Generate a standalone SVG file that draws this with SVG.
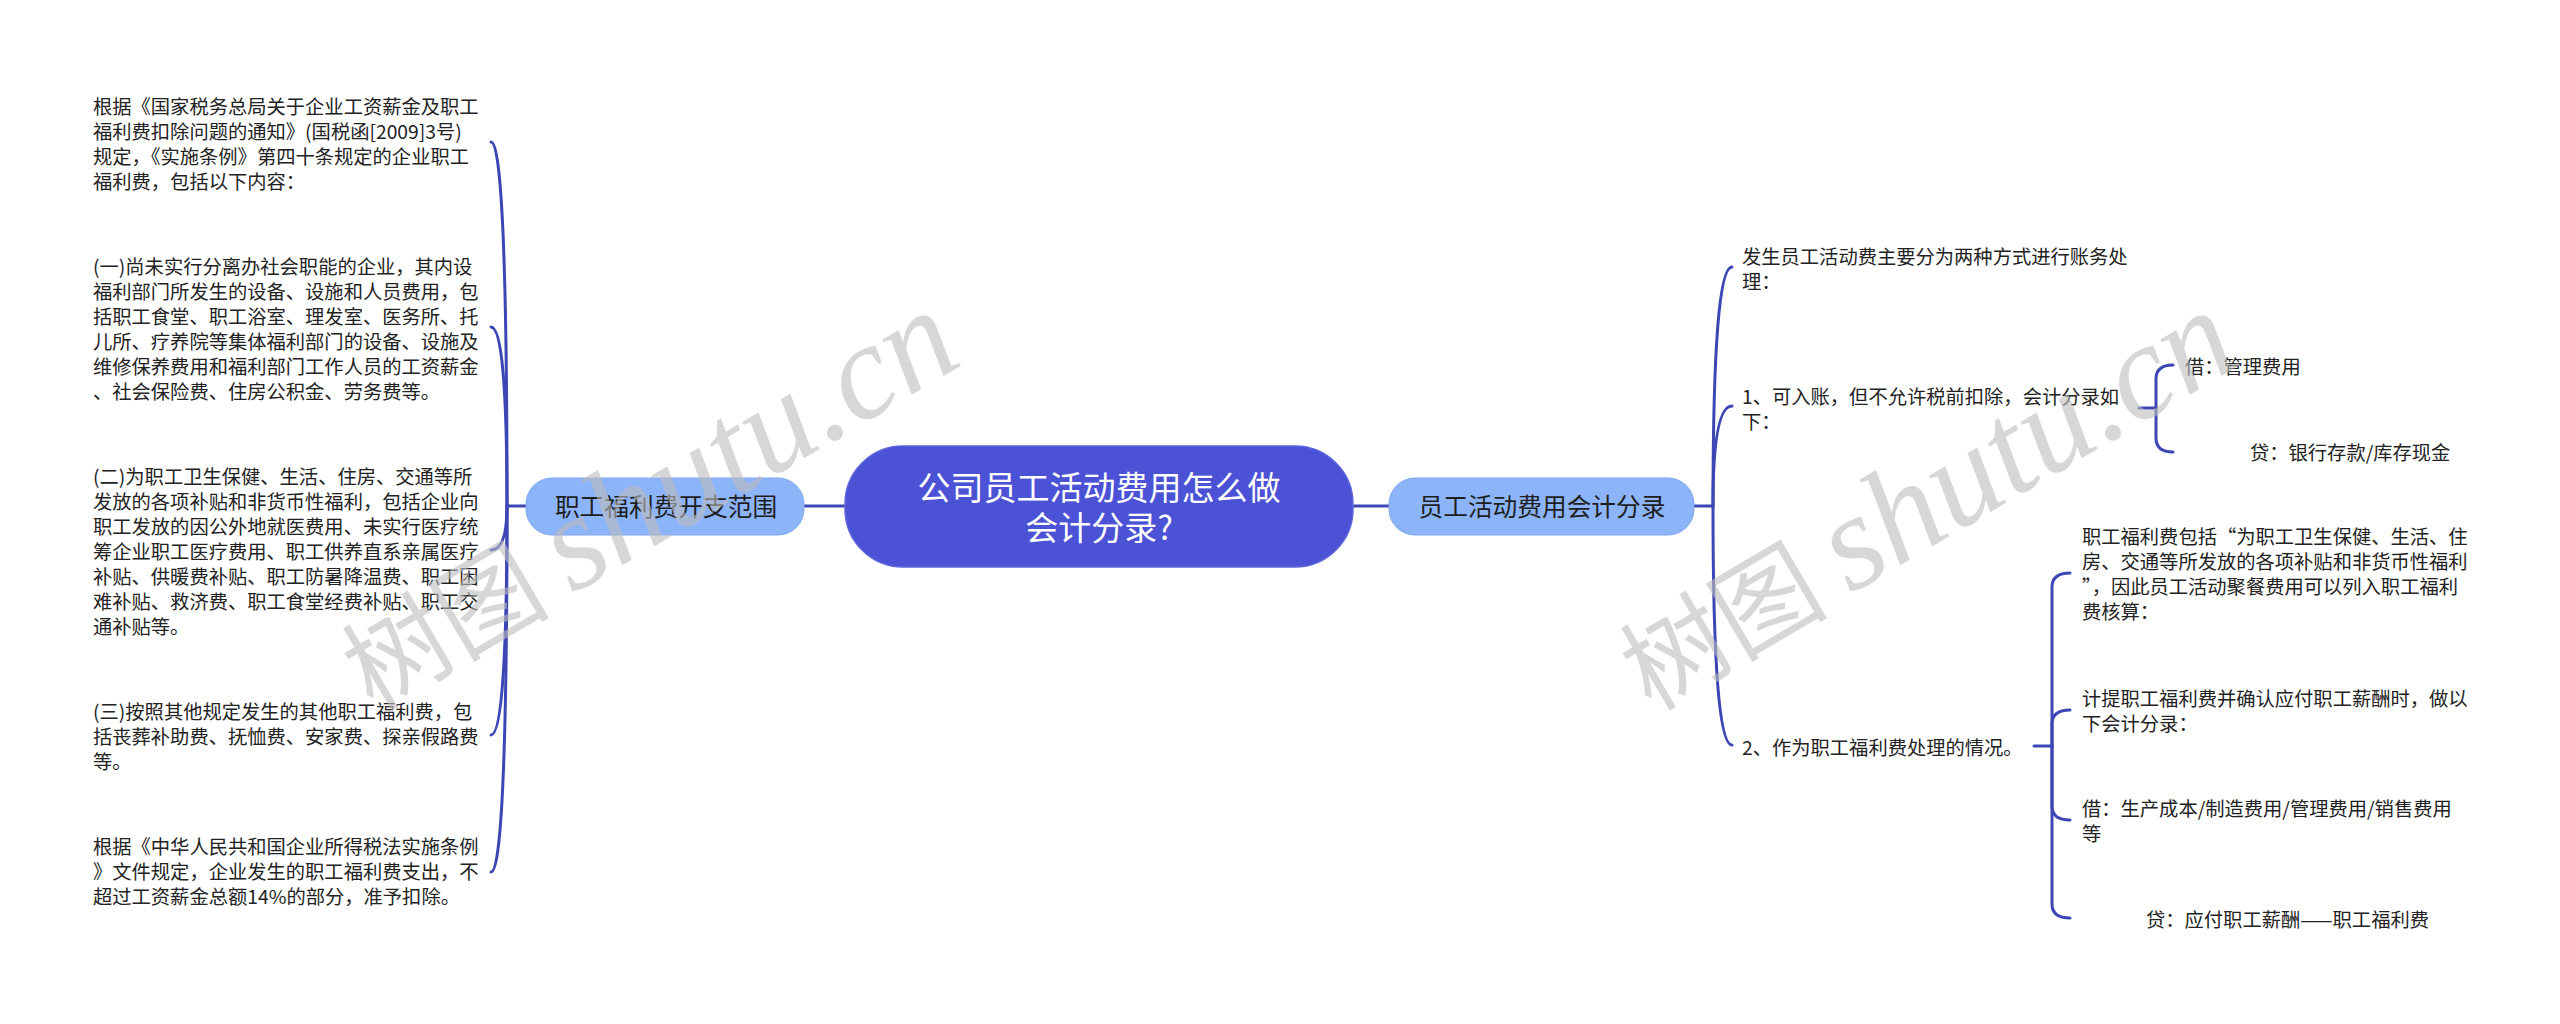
<svg xmlns="http://www.w3.org/2000/svg" width="2560" height="1024" viewBox="0 0 2560 1024">
<style>
.bg{fill:#ffffff}
.t{font-family:"Noto Sans CJK SC","Noto Sans",sans-serif;font-size:19.3px;fill:#222222;font-feature-settings:"chws" 0,"halt" 0}
.subn{fill:#8cb4f8;stroke:#7ea8f0;stroke-width:1}
.subt{font-family:"Noto Sans CJK SC","Noto Sans",sans-serif;font-size:24.7px;fill:#1e1e1e;text-anchor:middle}
.ctr{fill:#4b52d6;stroke:#5c63dc;stroke-width:1.5}
.ctrt{font-family:"Noto Sans CJK SC","Noto Sans",sans-serif;font-size:33px;fill:#ffffff;text-anchor:middle}
.c{fill:none;stroke:#3c46b5;stroke-width:3;stroke-linecap:round}
.wm{fill:#bdbdbd;opacity:0.6}
</style>
<rect class="bg" x="0" y="0" width="2560" height="1024"/>

<g id="connectors">
  <path class="c" d="M804 506 L844 506"/>
  <path class="c" d="M1354 506 L1389 506"/>
  <path class="c" d="M526 506 L507 506"/>
  <path class="c" d="M507 506 Q507 142 491 142"/>
  <path class="c" d="M507 506 Q507 327 491 327"/>
  <path class="c" d="M507 506 Q507 550 491 550"/>
  <path class="c" d="M507 506 Q507 735 491 735"/>
  <path class="c" d="M507 506 Q507 872 491 872"/>
  <path class="c" d="M1694 506 L1713 506"/>
  <path class="c" d="M1713 506 Q1713 267 1732 267"/>
  <path class="c" d="M1713 506 Q1713 406 1732 406"/>
  <path class="c" d="M1713 506 Q1713 745 1732 745"/>
  <path class="c" d="M2139 408 L2156 408"/>
  <path class="c" d="M2156 408 L2156 379 Q2156 365 2173 365"/>
  <path class="c" d="M2156 408 L2156 438 Q2156 452 2173 452"/>
  <path class="c" d="M2034 746 L2052 746"/>
  <path class="c" d="M2052 746 L2052 587 Q2052 573 2070 573"/>
  <path class="c" d="M2052 746 L2052 724 Q2052 710 2070 710"/>
  <path class="c" d="M2052 746 L2052 806 Q2052 820 2070 820"/>
  <path class="c" d="M2052 746 L2052 904 Q2052 918 2070 918"/>
</g>

<g id="center">
  <rect class="ctr" x="845" y="446" width="508" height="121" rx="58" ry="58"/>
  <text class="ctrt" x="1099" y="500">公司员工活动费用怎么做</text>
  <text class="ctrt" x="1099" y="540">会计分录?</text>
</g>

<g id="left-main">
  <rect class="subn" x="526" y="478" width="278" height="57" rx="26" ry="26"/>
  <text class="subt" x="666" y="516">职工福利费开支范围</text>
</g>

<g id="right-main">
  <rect class="subn" x="1389" y="478" width="305" height="57" rx="26" ry="26"/>
  <text class="subt" x="1542" y="516">员工活动费用会计分录</text>
</g>

<g id="left-leaf-1">
  <text class="t" x="93" y="114">根据《国家税务总局关于企业工资薪金及职工</text>
  <text class="t" x="93" y="139">福利费扣除问题的通知》(国税函[2009]3号)</text>
  <text class="t" x="93" y="164">规定，《实施条例》第四十条规定的企业职工</text>
  <text class="t" x="93" y="189">福利费，包括以下内容：</text>
</g>
<g id="left-leaf-2">
  <text class="t" x="93" y="274">(一)尚未实行分离办社会职能的企业，其内设</text>
  <text class="t" x="93" y="299">福利部门所发生的设备、设施和人员费用，包</text>
  <text class="t" x="93" y="324">括职工食堂、职工浴室、理发室、医务所、托</text>
  <text class="t" x="93" y="349">儿所、疗养院等集体福利部门的设备、设施及</text>
  <text class="t" x="93" y="374">维修保养费用和福利部门工作人员的工资薪金</text>
  <text class="t" x="93" y="399">、社会保险费、住房公积金、劳务费等。</text>
</g>
<g id="left-leaf-3">
  <text class="t" x="93" y="484">(二)为职工卫生保健、生活、住房、交通等所</text>
  <text class="t" x="93" y="509">发放的各项补贴和非货币性福利，包括企业向</text>
  <text class="t" x="93" y="534">职工发放的因公外地就医费用、未实行医疗统</text>
  <text class="t" x="93" y="559">筹企业职工医疗费用、职工供养直系亲属医疗</text>
  <text class="t" x="93" y="584">补贴、供暖费补贴、职工防暑降温费、职工困</text>
  <text class="t" x="93" y="609">难补贴、救济费、职工食堂经费补贴、职工交</text>
  <text class="t" x="93" y="634">通补贴等。</text>
</g>
<g id="left-leaf-4">
  <text class="t" x="93" y="719">(三)按照其他规定发生的其他职工福利费，包</text>
  <text class="t" x="93" y="744">括丧葬补助费、抚恤费、安家费、探亲假路费</text>
  <text class="t" x="93" y="769">等。</text>
</g>
<g id="left-leaf-5">
  <text class="t" x="93" y="854">根据《中华人民共和国企业所得税法实施条例</text>
  <text class="t" x="93" y="879">》文件规定，企业发生的职工福利费支出，不</text>
  <text class="t" x="93" y="904">超过工资薪金总额14%的部分，准予扣除。</text>
</g>

<g id="right-leaf-1">
  <text class="t" x="1742" y="264">发生员工活动费主要分为两种方式进行账务处</text>
  <text class="t" x="1742" y="289">理：</text>
</g>
<g id="right-leaf-2">
  <text class="t" x="1742" y="404">1、可入账，但不允许税前扣除，会计分录如</text>
  <text class="t" x="1742" y="429">下：</text>
</g>
<g id="right-leaf-2-1">
  <text class="t" x="2185" y="374">借：管理费用</text>
</g>
<g id="right-leaf-2-2">
  <text class="t" x="2250" y="460">贷：银行存款/库存现金</text>
</g>
<g id="right-leaf-3">
  <text class="t" x="1742" y="755">2、作为职工福利费处理的情况。</text>
</g>
<g id="right-leaf-3-1">
  <text class="t" x="2082" y="544">职工福利费包括“为职工卫生保健、生活、住</text>
  <text class="t" x="2082" y="569">房、交通等所发放的各项补贴和非货币性福利</text>
  <text class="t" x="2082" y="594">”，因此员工活动聚餐费用可以列入职工福利</text>
  <text class="t" x="2082" y="619">费核算：</text>
</g>
<g id="right-leaf-3-2">
  <text class="t" x="2082" y="706">计提职工福利费并确认应付职工薪酬时，做以</text>
  <text class="t" x="2082" y="731">下会计分录：</text>
</g>
<g id="right-leaf-3-3">
  <text class="t" x="2082" y="816">借：生产成本/制造费用/管理费用/销售费用</text>
  <text class="t" x="2082" y="841">等</text>
</g>
<g id="right-leaf-3-4">
  <text class="t" x="2146" y="927">贷：应付职工薪酬——职工福利费</text>
</g>

<g id="watermarks">
  <text class="wm" transform="translate(373,712) rotate(-30.5)"><tspan font-family="Noto Sans CJK SC,sans-serif" font-size="104">树图 </tspan><tspan font-family="Liberation Serif,serif" font-style="italic" font-size="136">shutu.cn</tspan></text>
  <text class="wm" transform="translate(1651,712) rotate(-30.5)"><tspan font-family="Noto Sans CJK SC,sans-serif" font-size="104">树图 </tspan><tspan font-family="Liberation Serif,serif" font-style="italic" font-size="136">shutu.cn</tspan></text>
</g>
</svg>
